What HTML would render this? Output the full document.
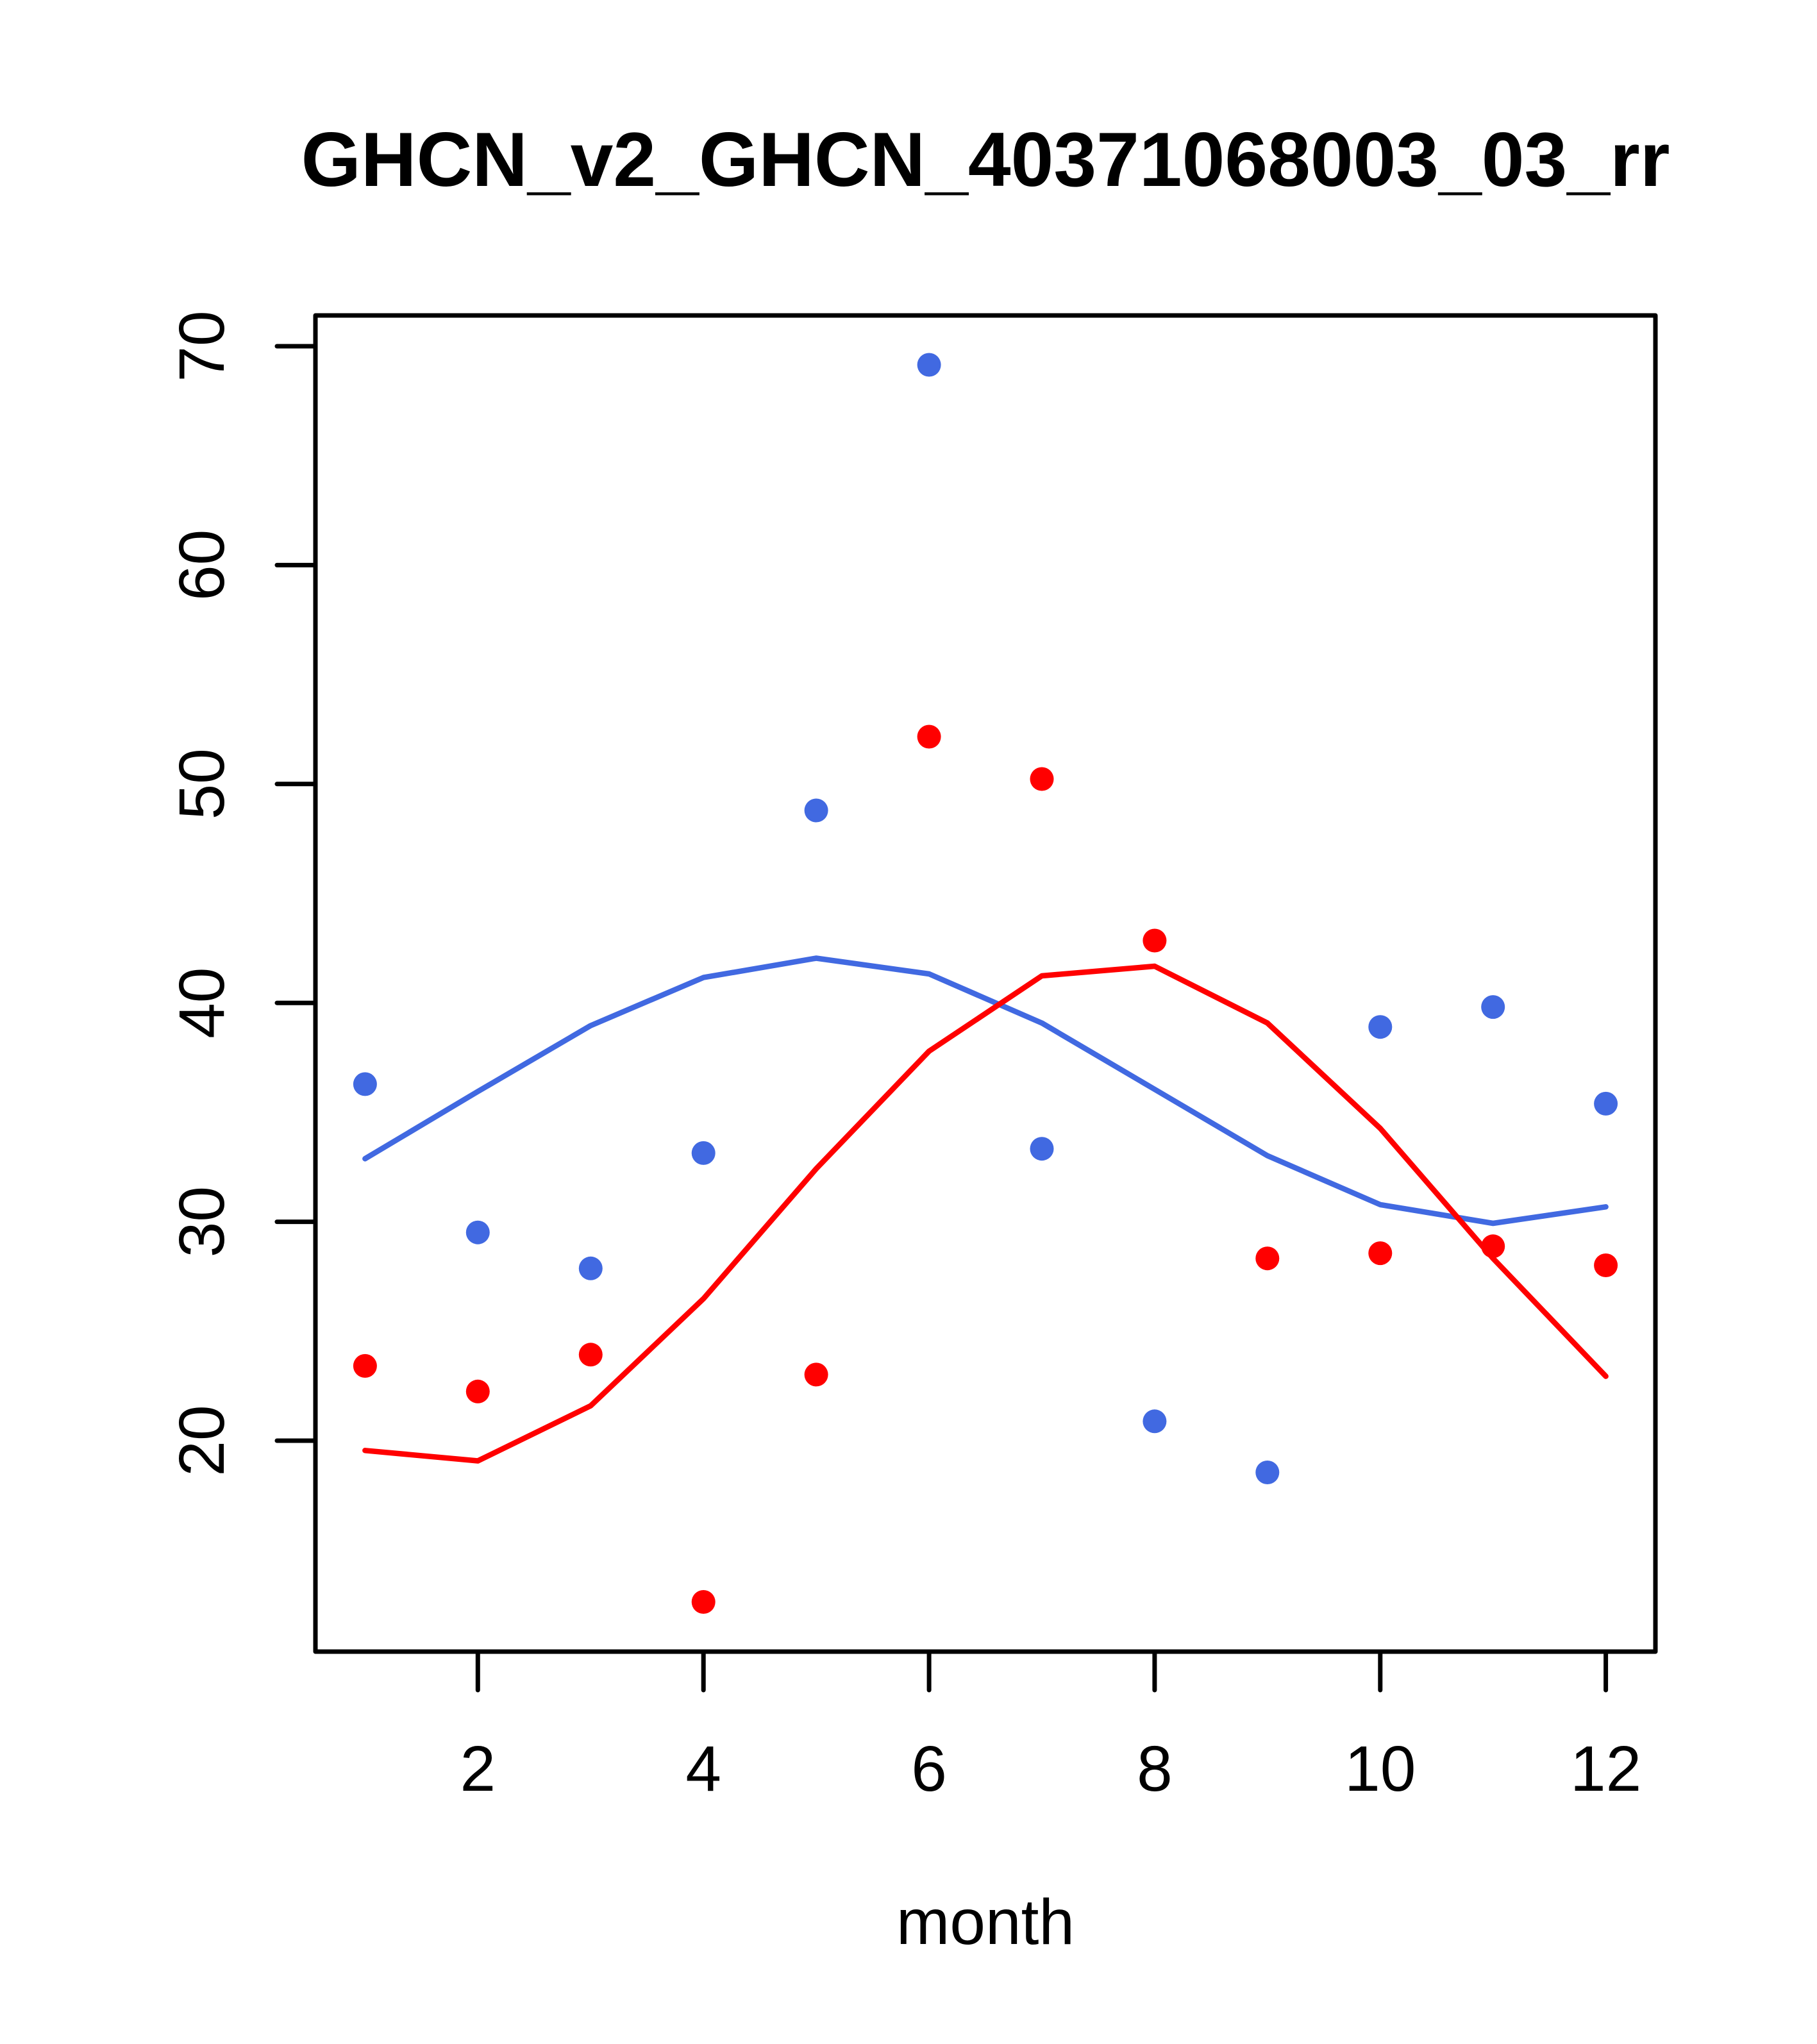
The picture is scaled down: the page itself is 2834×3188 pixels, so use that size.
<!DOCTYPE html>
<html>
<head>
<meta charset="utf-8">
<style>
  html, body { margin: 0; padding: 0; background: #ffffff; }
  svg { display: block; }
  text { font-family: "Liberation Sans", Arial, Helvetica, sans-serif; fill: #000; }
</style>
</head>
<body>
<svg xmlns="http://www.w3.org/2000/svg" width="2834" height="3188" viewBox="0 0 2834 3188">
  <rect x="0" y="0" width="2834" height="3188" fill="#ffffff"/>

  <!-- Title -->
  <text x="1537" y="290" font-size="120" font-weight="bold" text-anchor="middle">GHCN_v2_GHCN_40371068003_03_rr</text>

  <!-- Plot box -->
  <rect x="492" y="492" width="2090" height="2084" fill="none" stroke="#000" stroke-width="7" stroke-linejoin="round"/>

  <!-- Y axis ticks -->
  <g stroke="#000" stroke-width="7" stroke-linecap="round">
    <line x1="432" y1="540" x2="492" y2="540"/>
    <line x1="432" y1="881.4" x2="492" y2="881.4"/>
    <line x1="432" y1="1222.8" x2="492" y2="1222.8"/>
    <line x1="432" y1="1564.2" x2="492" y2="1564.2"/>
    <line x1="432" y1="1905.6" x2="492" y2="1905.6"/>
    <line x1="432" y1="2247" x2="492" y2="2247"/>
  </g>
  <!-- Y axis labels -->
  <g font-size="100" text-anchor="middle">
    <text transform="translate(349,540) rotate(-90)">70</text>
    <text transform="translate(349,881.4) rotate(-90)">60</text>
    <text transform="translate(349,1222.8) rotate(-90)">50</text>
    <text transform="translate(349,1564.2) rotate(-90)">40</text>
    <text transform="translate(349,1905.6) rotate(-90)">30</text>
    <text transform="translate(349,2247) rotate(-90)">20</text>
  </g>

  <!-- X axis ticks -->
  <g stroke="#000" stroke-width="7" stroke-linecap="round">
    <line x1="745.3" y1="2576" x2="745.3" y2="2636"/>
    <line x1="1097.2" y1="2576" x2="1097.2" y2="2636"/>
    <line x1="1449.1" y1="2576" x2="1449.1" y2="2636"/>
    <line x1="1800.9" y1="2576" x2="1800.9" y2="2636"/>
    <line x1="2152.8" y1="2576" x2="2152.8" y2="2636"/>
    <line x1="2504.6" y1="2576" x2="2504.6" y2="2636"/>
  </g>
  <!-- X axis labels -->
  <g font-size="100" text-anchor="middle">
    <text x="745.3" y="2793">2</text>
    <text x="1097.2" y="2793">4</text>
    <text x="1449.1" y="2793">6</text>
    <text x="1800.9" y="2793">8</text>
    <text x="2152.8" y="2793">10</text>
    <text x="2504.6" y="2793">12</text>
  </g>
  <text x="1537" y="3032" font-size="100" text-anchor="middle">month</text>

  <!-- Blue points -->
  <g fill="#4169E1">
    <circle cx="569.4" cy="1690.9" r="18.5"/>
    <circle cx="745.3" cy="1922.2" r="18.5"/>
    <circle cx="921.3" cy="1978.3" r="18.5"/>
    <circle cx="1097.2" cy="1798.4" r="18.5"/>
    <circle cx="1273.1" cy="1264" r="18.5"/>
    <circle cx="1449.1" cy="569" r="18.5"/>
    <circle cx="1625.0" cy="1791.7" r="18.5"/>
    <circle cx="1800.9" cy="2216.8" r="18.5"/>
    <circle cx="1976.8" cy="2296.5" r="18.5"/>
    <circle cx="2152.8" cy="1601.7" r="18.5"/>
    <circle cx="2328.7" cy="1570.6" r="18.5"/>
    <circle cx="2504.6" cy="1721.4" r="18.5"/>
  </g>

  <!-- Red points -->
  <g fill="#FF0000">
    <circle cx="569.4" cy="2130.4" r="18.5"/>
    <circle cx="745.3" cy="2170.3" r="18.5"/>
    <circle cx="921.3" cy="2112.8" r="18.5"/>
    <circle cx="1097.2" cy="2498.5" r="18.5"/>
    <circle cx="1273.1" cy="2143.9" r="18.5"/>
    <circle cx="1449.1" cy="1149" r="18.5"/>
    <circle cx="1625.0" cy="1215" r="18.5"/>
    <circle cx="1800.9" cy="1467" r="18.5"/>
    <circle cx="1976.8" cy="1962.7" r="18.5"/>
    <circle cx="2152.8" cy="1954.6" r="18.5"/>
    <circle cx="2328.7" cy="1943.8" r="18.5"/>
    <circle cx="2504.6" cy="1973.5" r="18.5"/>
  </g>

  <!-- Blue line -->
  <polyline fill="none" stroke="#4169E1" stroke-width="8.5" stroke-linecap="round" stroke-linejoin="round"
    points="569.4,1807.2 745.3,1702.4 921.3,1599.6 1097.2,1524.6 1273.1,1494.5 1449.1,1519 1625.0,1595.6 1800.9,1699 1976.8,1802.5 2152.8,1878.9 2328.7,1908 2504.6,1882.3"/>

  <!-- Red line -->
  <polyline fill="none" stroke="#FF0000" stroke-width="8.5" stroke-linecap="round" stroke-linejoin="round"
    points="569.4,2262.3 745.3,2278.5 921.3,2192.6 1097.2,2025.6 1273.1,1822.8 1449.1,1639.5 1625.0,1522 1800.9,1507 1976.8,1595.6 2152.8,1759.9 2328.7,1962.7 2504.6,2146.6"/>
</svg>
</body>
</html>
